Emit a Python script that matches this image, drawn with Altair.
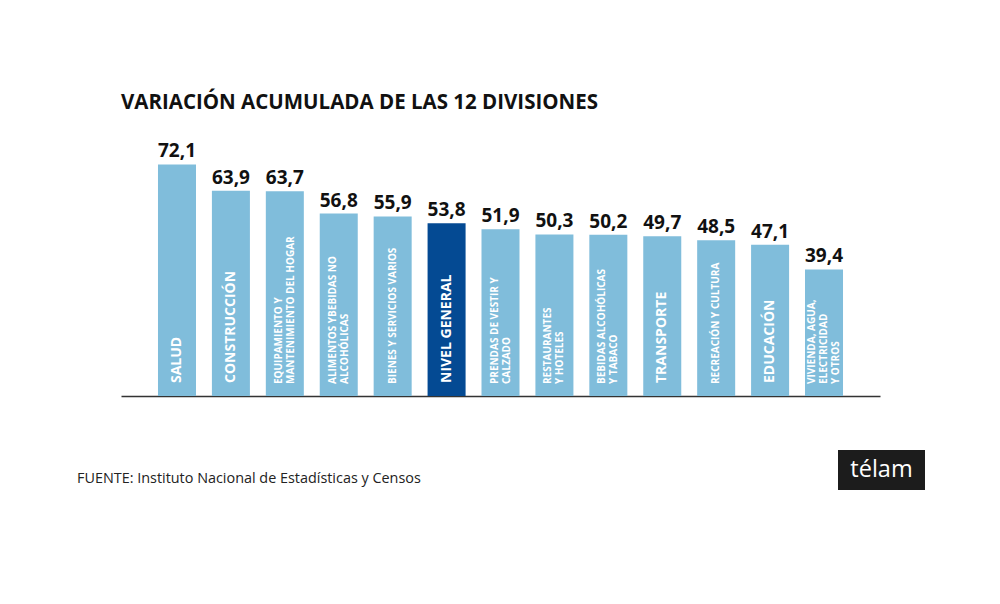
import altair as alt
import pandas as pd

categories = ["SALUD", "CONSTRUCCIÓN", "EQUIPAMIENTO", "ALIMENTOS", "BIENES",
              "NIVEL GENERAL", "PRENDAS", "RESTAURANTES", "BEBIDAS", "TRANSPORTE",
              "RECREACIÓN", "EDUCACIÓN", "VIVIENDA"]
values = [72.1, 63.9, 63.7, 56.8, 55.9, 53.8, 51.9, 50.3, 50.2, 49.7, 48.5, 47.1, 39.4]
value_labels = ["72,1", "63,9", "63,7", "56,8", "55,9", "53,8", "51,9", "50,3",
                "50,2", "49,7", "48,5", "47,1", "39,4"]
bar_labels = [
    ["SALUD"],
    ["CONSTRUCCIÓN"],
    ["EQUIPAMIENTO Y", "MANTENIMIENTO DEL HOGAR"],
    ["ALIMENTOS YBEBIDAS NO", "ALCOHÓLICAS"],
    ["BIENES Y SERVICIOS VARIOS"],
    ["NIVEL GENERAL"],
    ["PRENDAS DE VESTIR Y", "CALZADO"],
    ["RESTAURANTES", "\u00a0\u00a0\u00a0\u00a0Y HOTELES"],
    ["BEBIDAS ALCOHÓLICAS", "Y TABACO"],
    ["TRANSPORTE"],
    ["RECREACIÓN Y CULTURA"],
    ["EDUCACIÓN"],
    ["VIVIENDA, AGUA,", "ELECTRICIDAD", "\u00a0\u00a0Y OTROS"],
]
big_label = [True, True, False, False, False, True, False, False, False, True, False, True, False]
highlight = "NIVEL GENERAL"

df = pd.DataFrame({
    "cat": categories,
    "value": values,
    "vlabel": value_labels,
})

rows = []
for c, lines, b in zip(categories, bar_labels, big_label):
    for i, t in enumerate(lines):
        rows.append({"cat": c, "line": t, "i": i, "n": len(lines), "big": b})
lab_df = pd.DataFrame(rows)

FONT = "Open Sans"
W, H = 759, 257
LH = 12

x = alt.X("cat:N", sort=categories,
          scale=alt.Scale(paddingInner=0.295, paddingOuter=0.686),
          axis=alt.Axis(labels=False, ticks=False, title=None, domain=True,
                        domainColor="#333333", domainWidth=1.5, grid=False))
y = alt.Y("value:Q", scale=alt.Scale(domain=[0, 80], nice=False), axis=None)

base = alt.Chart(df)

bars = base.mark_bar().encode(
    x=x, y=y,
    color=alt.condition(alt.datum.cat == highlight, alt.value("#044a93"), alt.value("#80bddb")),
)

vals = base.mark_text(font=FONT, fontWeight="bold", fontSize=19, baseline="bottom",
                      dy=-3, color="#111111").encode(x=x, y=y, text="vlabel:N")

lab_base = alt.Chart(lab_df)
big = lab_base.transform_filter("datum.big").mark_text(
    font=FONT, fontWeight="bold", fontSize=14, angle=270, align="left",
    baseline="middle", color="white"
).encode(x=x, y=alt.value(H - 13), text="line:N")

small_layers = []
for off in [-2, -1, 0, 1, 2]:
    small_layers.append(
        lab_base.transform_filter("!datum.big")
        .transform_filter(f"2 * datum.i - (datum.n - 1) == {off}")
        .mark_text(font=FONT, fontWeight="bold", fontSize=10, angle=270, align="left",
                   baseline="middle", color="white", dy=off * LH / 2)
        .encode(x=x, y=alt.value(H - 12), text="line:N")
    )

title_df = pd.DataFrame({"t": ["VARIACIÓN ACUMULADA DE LAS 12 DIVISIONES"]})
title = alt.Chart(title_df).mark_text(
    font=FONT, fontWeight="bold", fontSize=20.5, align="left", baseline="middle",
    color="#111111"
).encode(x=alt.value(0), y=alt.value(-36), text="t:N")

src_df = pd.DataFrame({"t": ["FUENTE: Instituto Nacional de Estadísticas y Censos"]})
source = alt.Chart(src_df).mark_text(
    font=FONT, fontSize=14.4, align="left", baseline="middle", color="#222222"
).encode(x=alt.value(-44), y=alt.value(340), text="t:N")

logo_df = pd.DataFrame({"t": ["télam"]})
logo_box = alt.Chart(logo_df).mark_rect(color="#1c1c1c").encode(
    x=alt.value(717), x2=alt.value(804), y=alt.value(311), y2=alt.value(351))
logo_txt = alt.Chart(logo_df).mark_text(
    font=FONT, fontSize=23.5, align="center", baseline="middle", color="white"
).encode(x=alt.value(760.5), y=alt.value(331), text="t:N")

chart = alt.layer(bars, vals, big, *small_layers, title, source, logo_box, logo_txt).properties(
    width=W, height=H,
    background="white",
    autosize=alt.AutoSizeParams(type="none"),
    padding={"left": 113, "top": 131, "right": 110, "bottom": 180},
).configure_view(strokeWidth=0, stroke="transparent")

chart.save("out.html", embed_options={"renderer": "svg", "actions": False})
